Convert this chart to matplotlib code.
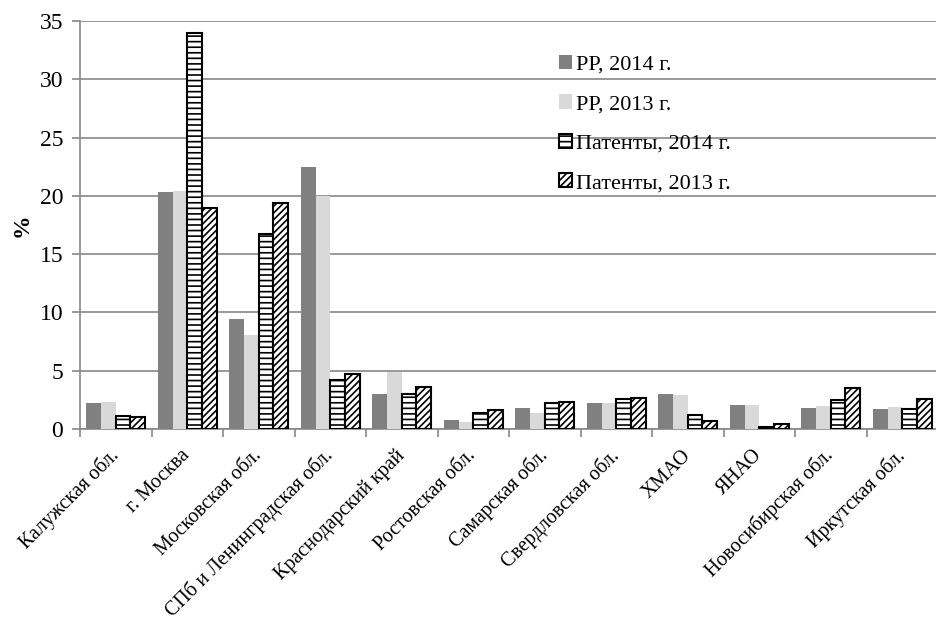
import numpy as np
import matplotlib
matplotlib.use('Agg')
import matplotlib.pyplot as plt

plt.rcParams['font.family'] = ['Liberation Serif', 'DejaVu Serif']
plt.rcParams['hatch.linewidth'] = 1.2

regions = ['Калужская обл.', 'г. Москва', 'Московская обл.',
           'СПб и Ленинградская обл.', 'Краснодарский край', 'Ростовская обл.',
           'Самарская обл.', 'Свердловская обл.', 'ХМАО', 'ЯНАО',
           'Новосибирская обл.', 'Иркутская обл.']

rr_2014 = [2.2, 20.3, 9.4, 22.5, 3.0, 0.8, 1.8, 2.2, 3.0, 2.1, 1.8, 1.7]
rr_2013 = [2.3, 20.4, 8.1, 20.0, 4.9, 0.6, 1.4, 2.2, 2.9, 2.1, 2.0, 1.9]
pat_2014 = [1.1, 34.0, 16.7, 4.2, 3.0, 1.4, 2.2, 2.6, 1.2, 0.2, 2.5, 1.7]
pat_2013 = [1.0, 19.0, 19.4, 4.7, 3.6, 1.6, 2.3, 2.7, 0.7, 0.4, 3.5, 2.6]

series = [
    ('РР, 2014 г.', rr_2014, dict(color='#808080', edgecolor='none')),
    ('РР, 2013 г.', rr_2013, dict(color='#d9d9d9', edgecolor='none')),
    ('Патенты, 2014 г.', pat_2014, dict(facecolor='white', edgecolor='black', hatch='---', linewidth=1.5)),
    ('Патенты, 2013 г.', pat_2013, dict(facecolor='white', edgecolor='black', hatch='/////', linewidth=1.5)),
]

fig = plt.figure(figsize=(9.36, 6.22), dpi=100)
ax = fig.add_axes([80 / 936, 1 - 429 / 622, 858 / 936, 408 / 622])

x = np.arange(len(regions))
w = 0.205
for i, (name, vals, style) in enumerate(series):
    ax.bar(x + (i - 1.5) * w, vals, w, label=name, zorder=3, **style)

ax.set_xlim(-0.5, len(regions) - 0.5)
ax.set_ylim(0, 35)
ax.set_yticks(np.arange(0, 36, 5))
ax.grid(axis='y', color='#888888', lw=1.2, zorder=0)
for s in ['top', 'right']:
    ax.spines[s].set_visible(False)
ax.spines['left'].set_color('#888888')
ax.spines['bottom'].set_color('#888888')
ax.spines['left'].set_linewidth(1.2)
ax.spines['bottom'].set_linewidth(1.2)

# region names, rotated; ticks sit on the group borders
ax.set_xticks(x)
ax.set_xticklabels(regions, rotation=45, ha='right', va='center',
                   rotation_mode='anchor', fontsize=14.5)
ax.set_xticks(np.arange(-0.5, len(regions), 1), minor=True)
ax.tick_params(axis='x', which='major', length=0, pad=17)
ax.tick_params(axis='x', which='minor', length=6, color='#888888', width=1.2)
ax.tick_params(axis='y', length=6, color='#888888', width=1.2, labelsize=17, pad=6)

ax.set_ylabel('%', fontsize=17, fontweight='bold', labelpad=5)

leg = ax.legend(loc='upper left', bbox_to_anchor=(539 / 936, 1 - 35 / 622),
                bbox_transform=fig.transFigure, frameon=False, fontsize=16,
                handlelength=0.6, handleheight=0.6, handletextpad=0.15,
                labelspacing=0.88)

fig.savefig('out.png', dpi=100)
